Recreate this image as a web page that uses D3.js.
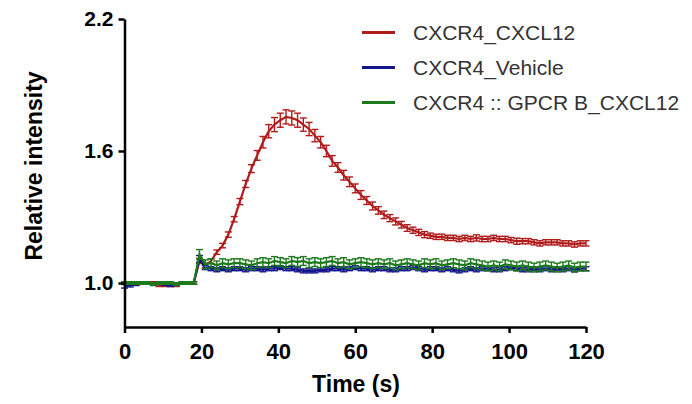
<!DOCTYPE html>
<html>
<head>
<meta charset="utf-8">
<script src="https://cdn.jsdelivr.net/npm/d3@7/dist/d3.min.js"></script>
<style>
  body { margin: 0; background: #fff; }
  svg text { font-family: Arial, "Liberation Sans", sans-serif; }
</style>
</head>
<body>
<div id="chart"></div>
<script>
// sample times (s)
const times = [0,1.5,3,4.5,6,7.5,9,10.5,12,13.5,15,16.5,18,19.5,
  21,22.5,24,25.5,27,28.5,30,31.5,33,34.5,36,37.5,39,40.5,42,43.5,45,46.5,48,49.5,
  51,52.5,54,55.5,57,58.5,60,61.5,63,64.5,66,67.5,69,70.5,72,73.5,75,76.5,78,79.5,
  81,82.5,84,85.5,87,88.5,90,91.5,93,94.5,96,97.5,99,100.5,102,103.5,105,106.5,108,109.5,
  111,112.5,114,115.5,117,118.5,120];

const seriesNames = ['CXCR4_CXCL12', 'CXCR4_Vehicle', 'CXCR4 :: GPCR B_CXCL12'];
const seriesColors = ['#b01c1c', '#14148c', '#1c7a1c'];

const cxcl12 = [1.00,1.00,0.995,1.00,1.00,1.00,0.99,0.99,0.99,0.99,1.00,1.00,1.00,1.10,
  1.08,1.10,1.14,1.17,1.22,1.29,1.37,1.45,1.52,1.58,
  1.64,1.69,1.72,1.74,1.755,1.75,1.74,1.72,1.70,1.67,
  1.64,1.60,1.555,1.525,1.49,1.46,1.43,1.40,1.375,1.35,
  1.33,1.31,1.295,1.28,1.265,1.25,1.24,1.23,1.22,1.215,
  1.21,1.21,1.205,1.205,1.20,1.205,1.20,1.205,1.20,1.20,
  1.205,1.20,1.20,1.195,1.19,1.19,1.19,1.185,1.18,1.185,
  1.185,1.185,1.18,1.18,1.175,1.18,1.18];
const cxcl12Err = [0.006,0.006,0.006,0.006,0.006,0.006,0.006,0.006,0.006,0.006,0.006,0.006,0.006,0.012,
  0.01,0.01,0.01,0.01,0.012,0.012,0.014,0.016,0.018,0.022,
  0.026,0.03,0.032,0.032,0.032,0.032,0.032,0.03,0.03,0.028,
  0.026,0.026,0.024,0.022,0.022,0.022,0.02,0.02,0.018,0.018,
  0.017,0.017,0.016,0.016,0.015,0.015,0.014,0.014,0.014,0.012,
  0.012,0.012,0.012,0.012,0.012,0.012,0.012,0.014,0.012,0.012,
  0.012,0.012,0.012,0.012,0.014,0.012,0.012,0.012,0.012,0.012,
  0.012,0.012,0.012,0.012,0.012,0.012,0.012];

const vehicle = [0.985,0.99,0.995,1.00,1.00,0.995,1.00,0.995,0.99,0.995,1.00,1.00,1.00,1.11,
  1.07,1.065,1.06,1.065,1.06,1.065,1.065,1.06,1.065,1.065,
  1.06,1.065,1.065,1.07,1.065,1.065,1.06,1.055,1.055,1.055,
  1.06,1.06,1.065,1.065,1.06,1.065,1.07,1.065,1.065,1.06,
  1.065,1.065,1.06,1.06,1.065,1.065,1.07,1.065,1.06,1.065,
  1.065,1.06,1.065,1.06,1.055,1.06,1.065,1.06,1.065,1.065,
  1.06,1.06,1.065,1.07,1.065,1.06,1.06,1.065,1.06,1.065,
  1.06,1.065,1.06,1.065,1.06,1.065,1.065];
const vehicleErr = [0.008,0.008,0.006,0.006,0.006,0.006,0.006,0.006,0.006,0.006,0.006,0.006,0.006,0.015,
  0.009,0.009,0.009,0.009,0.009,0.009,0.009,0.009,0.009,0.009,
  0.009,0.009,0.009,0.009,0.009,0.009,0.009,0.009,0.009,0.009,
  0.009,0.009,0.009,0.009,0.009,0.009,0.009,0.009,0.009,0.009,
  0.009,0.009,0.009,0.009,0.009,0.009,0.009,0.009,0.009,0.009,
  0.009,0.009,0.009,0.009,0.009,0.009,0.009,0.009,0.009,0.009,
  0.009,0.009,0.009,0.009,0.009,0.009,0.009,0.009,0.009,0.009,
  0.009,0.009,0.009,0.009,0.009,0.009,0.009];

const gpcrB = [1.00,1.00,1.00,1.00,1.00,0.995,1.00,1.00,1.00,0.995,1.00,1.00,1.00,1.13,
  1.085,1.09,1.08,1.09,1.085,1.09,1.09,1.085,1.08,1.09,
  1.095,1.09,1.10,1.095,1.09,1.10,1.095,1.10,1.09,1.095,
  1.09,1.095,1.10,1.09,1.095,1.085,1.09,1.095,1.09,1.085,
  1.09,1.085,1.09,1.08,1.085,1.09,1.085,1.08,1.09,1.085,
  1.09,1.08,1.085,1.09,1.085,1.08,1.09,1.085,1.08,1.075,
  1.08,1.075,1.085,1.08,1.075,1.08,1.075,1.07,1.075,1.08,
  1.075,1.07,1.075,1.08,1.07,1.075,1.075];
const gpcrBErr = [0.006,0.006,0.006,0.006,0.006,0.006,0.006,0.006,0.006,0.006,0.006,0.006,0.006,0.022,
  0.02,0.02,0.02,0.02,0.02,0.02,0.02,0.02,0.02,0.02,
  0.02,0.02,0.02,0.02,0.02,0.02,0.02,0.02,0.02,0.02,
  0.02,0.02,0.02,0.02,0.02,0.02,0.02,0.02,0.02,0.02,
  0.02,0.02,0.02,0.02,0.02,0.02,0.02,0.02,0.02,0.02,
  0.02,0.02,0.02,0.02,0.02,0.02,0.02,0.02,0.02,0.02,
  0.02,0.02,0.02,0.02,0.02,0.02,0.02,0.02,0.02,0.02,
  0.02,0.02,0.02,0.02,0.02,0.02,0.02];

const xTicks = [0, 20, 40, 60, 80, 100, 120];
const yTicks = [1.0, 1.6, 2.2];

const w = 692;
const h = 404;
const svg = d3.select('#chart').append('svg')
  .attr('width', w)
  .attr('height', h);

const [x0, y0, x1, y1] = [124.5, 19, 586, 327];
const xScale = d3.scaleLinear().domain([0, 120]).range([x0, x1]);
const yScale = d3.scaleLinear().domain([0.8, 2.2]).range([y1, y0]);

const series = [
  {name: seriesNames[0], color: seriesColors[0], vals: cxcl12, err: cxcl12Err},
  {name: seriesNames[1], color: seriesColors[1], vals: vehicle, err: vehicleErr},
  {name: seriesNames[2], color: seriesColors[2], vals: gpcrB, err: gpcrBErr}
];

const line = d3.line()
  .x(d => xScale(d.t))
  .y(d => yScale(d.v));

series.forEach(s => {
  const pts = times.map((t, i) => ({t: t, v: s.vals[i], e: s.err[i]}));
  const g = svg.append('g');
  // error bars
  const eb = g.selectAll('g.eb').data(pts).enter().append('g')
    .attr('stroke', s.color)
    .attr('stroke-width', 1.4);
  eb.append('line')
    .attr('x1', d => xScale(d.t)).attr('x2', d => xScale(d.t))
    .attr('y1', d => yScale(d.v - d.e)).attr('y2', d => yScale(d.v + d.e));
  eb.append('line')
    .attr('x1', d => xScale(d.t) - 3.5).attr('x2', d => xScale(d.t) + 3.5)
    .attr('y1', d => yScale(d.v + d.e)).attr('y2', d => yScale(d.v + d.e));
  eb.append('line')
    .attr('x1', d => xScale(d.t) - 3.5).attr('x2', d => xScale(d.t) + 3.5)
    .attr('y1', d => yScale(d.v - d.e)).attr('y2', d => yScale(d.v - d.e));
  g.append('path')
    .datum(pts)
    .attr('d', line)
    .attr('fill', 'none')
    .attr('stroke', s.color)
    .attr('stroke-width', 2.2);
});

// axes
const yAxis = d3.axisLeft(yScale).tickValues(yTicks).tickFormat(d3.format('.1f'))
  .tickSize(6).tickSizeOuter(0).tickPadding(5);
const gy = svg.append('g').attr('transform', `translate(${x0}, 0)`).call(yAxis);
const xAxis = d3.axisBottom(xScale).tickValues(xTicks).tickFormat(d3.format('d'))
  .tickSize(6).tickSizeOuter(0).tickPadding(10);
const gx = svg.append('g').attr('transform', `translate(0, ${y1})`).call(xAxis);

[gx, gy].forEach(g => {
  g.select('.domain').attr('stroke', '#000').attr('stroke-width', 2.5);
  g.selectAll('.tick line').attr('stroke', '#000').attr('stroke-width', 2.5);
  g.selectAll('.tick text')
    .attr('fill', '#000')
    .style('font-family', 'Arial, "Liberation Sans", sans-serif')
    .style('font-weight', 'bold');
});
gy.selectAll('.tick text').style('font-size', '21px');
gx.selectAll('.tick text').style('font-size', '22px');

// axis titles
svg.append('text')
  .attr('x', 356)
  .attr('y', 392)
  .attr('text-anchor', 'middle')
  .style('font-size', '23px')
  .style('font-weight', 'bold')
  .text('Time (s)');

svg.append('text')
  .attr('transform', 'translate(42, 166) rotate(-90)')
  .attr('text-anchor', 'middle')
  .style('font-size', '23px')
  .style('font-weight', 'bold')
  .text('Relative intensity');

// legend
const legend = svg.append('g');
series.forEach((s, i) => {
  const ly = 32.5 + i * 35;
  legend.append('line')
    .attr('x1', 362).attr('x2', 395)
    .attr('y1', ly).attr('y2', ly)
    .attr('stroke', s.color)
    .attr('stroke-width', 3);
  legend.append('text')
    .attr('x', 413)
    .attr('y', ly + 7.5)
    .attr('fill', '#333')
    .style('font-size', '21px')
    .text(s.name);
});
</script>
</body>
</html>
